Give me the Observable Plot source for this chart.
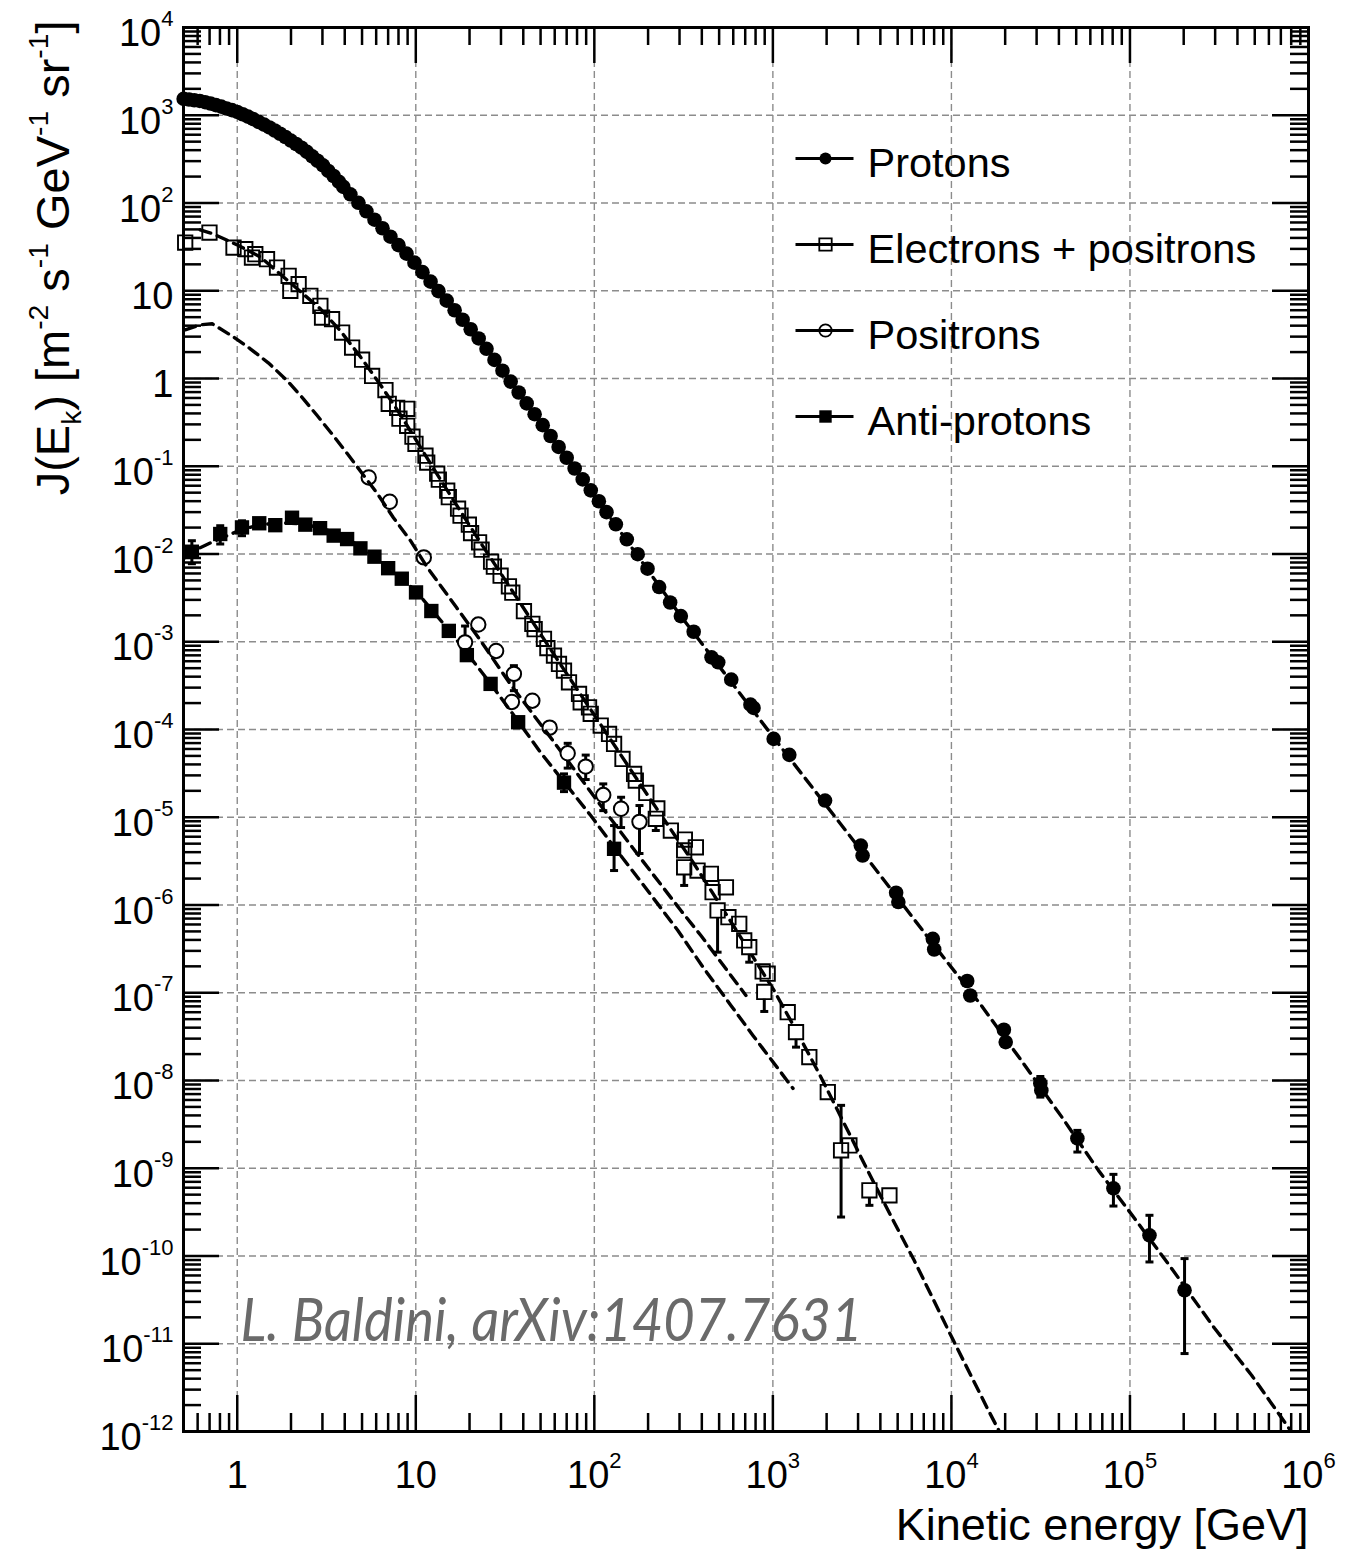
<!DOCTYPE html>
<html>
<head>
<meta charset="utf-8">
<script src="https://cdn.jsdelivr.net/npm/d3@7"></script>
<script src="https://cdn.jsdelivr.net/npm/@observablehq/plot@0.6"></script>
<style>
html,body{margin:0;padding:0;background:#fff;}
#chart svg{display:block;}
</style>
</head>
<body>
<div id="chart"></div>
<script>
// ---------------- data (kinetic energy E in GeV, flux J in m^-2 s^-1 GeV^-1 sr^-1) ----------------
const protonE = [
 0.501,0.537,0.575,0.617,0.661,0.708,0.759,0.813,0.871,0.933,
 1.0,1.072,1.148,1.230,1.318,1.413,1.514,1.622,1.738,1.862,
 1.995,2.138,2.291,2.455,2.630,2.818,3.020,3.236,3.467,3.715,
 3.93,4.30,4.77,5.29,5.87,6.51,7.21,8.00,8.87,9.83,
 10.9,12.1,13.4,14.9,16.5,18.3,20.3,22.5,24.9,27.6,
 30.6,34.0,37.7,41.8,46.3,51.4,56.9,63.1,70.0,77.6,
 86.1,95.5,106,117,132,152,175,
 198.6,230.7,265.8,305.2,360.1,453.2,494.1,584.5,748.8,779.4,
 1010,1236,1960,3108,3181,4900,5043,7866,8008,12260,
 12750,19670,20140,31480,31890,50760,80800,128600,202200];
const protonJ = [
 1535,1510,1483,1455,1409,1361,1306,1253,1194,1143,
 1091,1026,964,904,841,782,726,670,615,565,
 515,470,427,382,340,303,269,232,203,174,
 152.6,125.6,100.5,80.4,64.5,51.6,41.3,33.1,26.5,20.9,
 16.3,12.7,9.89,7.71,6.00,4.67,3.64,2.86,2.18,1.63,
 1.227,0.922,0.693,0.520,0.392,0.294,0.221,0.166,0.125,0.0942,
 0.0708,0.0531,0.0399,0.0300,0.0218,0.0147,0.00995,
 6.80e-3,4.20e-3,2.80e-3,1.96e-3,1.30e-3,6.64e-4,5.83e-4,3.70e-4,1.92e-4,1.76e-4,
 7.81e-5,5.14e-5,1.55e-5,4.76e-6,3.66e-6,1.38e-6,1.08e-6,4.12e-7,3.11e-7,1.36e-7,
 9.31e-8,3.79e-8,2.74e-8,9.27e-9,7.71e-9,2.19e-9,5.90e-10,1.72e-10,4.07e-11];
const protonErrE  = [31480, 50760, 80800, 128600, 202200];
const protonErrLo = [6.47e-9, 1.53e-9, 3.71e-10, 8.55e-11, 7.73e-12];
const protonErrHi = [1.11e-8, 2.70e-9, 8.52e-10, 2.91e-10, 9.34e-11];
const protonModelE = [1, 2.256, 3.93, 9.83, 24.9, 95.5, 305.2, 1010, 3120, 8008, 14700, 24640, 41280, 66570, 105970, 170900, 297800, 480100, 805000];
const protonModelJ = [1090, 435.5, 152.6, 20.8, 2.18, 0.0531, 1.96e-3, 8.08e-5, 4.18e-6, 3.46e-7, 7.17e-8, 1.69e-8, 3.90e-9, 9.46e-10, 2.69e-10, 7.24e-11, 1.50e-11, 4.38e-12, 9.82e-13];

const epE = [
 0.511,0.699,0.953,1.109,1.262,1.209,1.468,1.670,1.940,2.207,
 1.983,2.567,2.921,2.985,3.397,3.867,4.399,5.005,5.694,6.762,
 7.055,7.865,8.948,8.10,8.948,9.58,9.96,11.33,11.59,13.18,
 13.46,15.00,15.31,17.25,17.81,19.83,20.40,22.62,23.36,26.41,
 27.38,29.86,33.24,34.72,40.34,44.96,46.32,52.23,54.58,59.43,
 63.39,67.62,72.13,82.10,83.88,93.38,95.45,108.6,120.9,129.0,
 143.8,167.0,170.7,195.5,225.3,221.0,268.3,321.4,370.4,318.5,
 318.5,378.6,449.6,459.6,545.8,490.1,563.7,648.1,691.1,737.3,
 876.7,935.0,894.9,1211,1348,1600,2030,2410,2683,3473,4496];
const epJ = [
 35.4,46.0,31.0,29.8,26.1,23.9,22.9,18.4,14.8,11.9,
 9.97,8.75,6.73,4.95,4.75,3.34,2.25,1.64,1.07,0.738,
 0.515,0.464,0.452,0.348,0.289,0.217,0.180,0.132,0.110,0.0822,
 0.0702,0.0526,0.0444,0.0328,0.0273,0.0216,0.0173,0.0136,0.0112,0.00818,
 0.00717,0.00566,0.00428,0.00362,0.00223,0.00160,0.00139,0.00108,8.46e-4,6.95e-4,
 5.59e-4,4.69e-4,3.45e-4,2.54e-4,2.04e-4,1.79e-4,1.51e-4,1.11e-4,8.91e-5,6.85e-5,
 4.62e-5,3.12e-5,2.62e-5,1.89e-5,1.26e-5,9.59e-6,7.06e-6,5.57e-6,4.55e-6,4.18e-6,
 2.69e-6,2.47e-6,2.27e-6,1.40e-6,1.59e-6,8.66e-7,7.26e-7,6.11e-7,3.94e-7,3.31e-7,
 1.75e-7,1.65e-7,1.02e-7,6.01e-8,3.56e-8,1.85e-8,7.38e-9,1.60e-9,1.82e-9,5.60e-10,4.91e-10];
const epErrE  = [221.0, 318.5, 490.1, 737.3, 894.9, 1348, 2410, 3473];
const epErrJ  = [9.59e-6, 2.69e-6, 8.66e-7, 3.31e-7, 1.02e-7, 3.56e-8, 1.60e-9, 5.60e-10];
const epErrLo = [7.06e-6, 1.67e-6, 2.90e-7, 2.23e-7, 6.12e-8, 2.40e-8, 2.78e-10, 3.78e-10];
const epErrHi = [9.59e-6, 2.69e-6, 8.66e-7, 3.31e-7, 1.02e-7, 3.56e-8, 5.21e-9, 5.60e-10];
const epModelE = [0.620, 0.733, 1.0, 1.346, 1.983, 2.921, 3.782, 4.896, 6.339, 8.207, 13.75, 23.06, 38.66, 64.80, 108.6, 189.3, 361.0, 605.1, 1015, 1313, 1814, 2673, 3549, 4777, 6185, 10230, 16090, 19020];
const epModelJ = [49.4, 44.5, 33.3, 24.3, 12.30, 6.22, 3.49, 1.767, 0.848, 0.386, 0.0702, 0.01345, 0.00272, 5.48e-4, 1.137e-4, 2.07e-5, 2.97e-6, 5.69e-7, 1.062e-7, 4.13e-8, 1.205e-8, 2.50e-9, 7.88e-10, 2.42e-10, 8.93e-11, 1.10e-11, 1.75e-12, 9.08e-13];

const positronE = [5.45, 7.15, 11.09, 22.39, 18.88, 28.18, 35.44, 34.54, 44.96, 56.22, 70.93, 89.47, 112.2, 141.2, 179.0];
const positronJ = [0.0745, 0.0394, 0.00915, 0.00157, 9.84e-4, 7.86e-4, 4.30e-4, 2.06e-4, 2.13e-4, 1.05e-4, 5.36e-5, 3.78e-5, 1.79e-5, 1.25e-5, 8.86e-6];
const positronErrE  = [18.88, 35.44, 70.93, 89.47, 112.2, 141.2, 179.0];
const positronErrJ  = [9.84e-4, 4.30e-4, 5.36e-5, 3.78e-5, 1.79e-5, 1.25e-5, 8.86e-6];
const positronErrLo = [9.84e-4, 2.77e-4, 3.63e-5, 2.69e-5, 1.19e-5, 7.63e-6, 3.86e-6];
const positronErrHi = [1.51e-3, 5.34e-4, 6.96e-5, 5.11e-5, 2.40e-5, 1.69e-5, 1.36e-5];
const positronModelE = [0.511, 0.620, 0.724, 0.950, 1.183, 1.492, 1.907, 2.345, 2.810, 3.455, 4.140, 5.024, 6.098, 7.497, 9.34, 11.63, 16.92, 23.06, 33.97, 54.78, 70.93, 108.6, 182.0, 305.2, 395.2, 706.5];
const positronModelJ = [3.59, 4.09, 4.20, 2.99, 2.18, 1.51, 0.942, 0.587, 0.376, 0.2225, 0.1388, 0.0822, 0.0486, 0.0259, 0.01417, 0.00698, 0.00245, 0.00103, 3.25e-4, 8.98e-5, 4.42e-5, 1.36e-5, 3.39e-6, 8.66e-7, 4.49e-7, 9.31e-8];

const pbarE = [0.557, 0.803, 1.063, 1.328, 1.633, 2.027, 2.406, 2.910, 3.468, 4.124, 4.896, 5.866, 7.001, 8.348, 10.03, 12.22, 15.31, 19.32, 26.24, 37.43, 67.62, 129.0];
const pbarJ = [0.01062, 0.0169, 0.0201, 0.0224, 0.0213, 0.0259, 0.0216, 0.0197, 0.0162, 0.0148, 0.0116, 0.00932, 0.00689, 0.00523, 0.00365, 0.00224, 0.00133, 7.04e-4, 3.31e-4, 1.21e-4, 2.48e-5, 4.37e-6];
const pbarErrE  = [0.557, 0.803, 1.063, 67.62, 129.0];
const pbarErrLo = [7.75e-3, 0.0130, 0.01616, 1.96e-5, 2.47e-6];
const pbarErrHi = [0.01417, 0.0210, 0.0239, 3.12e-5, 8.04e-6];
const pbarModelE = [0.511, 0.620, 0.753, 1.053, 1.346, 1.743, 2.256, 2.921, 3.782, 4.896, 7.028, 10.09, 15.25, 19.25, 26.24, 37.19, 50.05, 67.36, 95.45, 128.5, 182.0, 293.7, 410.9, 582.1, 773.3, 1296];
const pbarModelJ = [0.00908, 0.01180, 0.01417, 0.01891, 0.02157, 0.02273, 0.02214, 0.01994, 0.01659, 0.01211, 0.00717, 0.00372, 0.001373, 7.51e-4, 3.33e-4, 1.263e-4, 5.46e-5, 2.55e-5, 1.046e-5, 4.64e-6, 1.852e-6, 5.12e-7, 1.891e-7, 7.17e-8, 3.26e-8, 8.13e-9];

// tick labels
const xTickValues = [1, 10, 100, 1e3, 1e4, 1e5, 1e6];
const xTickLabels = ["1", "10", "10^{2}", "10^{3}", "10^{4}", "10^{5}", "10^{6}"];
const yTickValues = [1e-12,1e-11,1e-10,1e-9,1e-8,1e-7,1e-6,1e-5,1e-4,1e-3,1e-2,1e-1,1,10,100,1e3,1e4];
const yTickLabels = ["10^{-12}","10^{-11}","10^{-10}","10^{-9}","10^{-8}","10^{-7}","10^{-6}","10^{-5}","10^{-4}","10^{-3}","10^{-2}","10^{-1}","1","10","10^{2}","10^{3}","10^{4}"];
const legendNames = ["Protons", "Electrons + positrons", "Positrons", "Anti-protons"];
const xTitle = "Kinetic energy [GeV]";
const yTitle = "J(E_{k}) [m^{-2} s^{-1} GeV^{-1} sr^{-1}]";
const watermark = "L. Baldini, arXiv:1407.7631";

// ---------------- layout ----------------
const W = 1364, H = 1549;
const mL = 183, mR = 56, mT = 27, mB = 118;
const innerW = W - mL - mR, innerH = H - mT - mB;

const zip = (E, J) => E.map((e, i) => ({E: e, J: J[i]}));
const errRows = (E, lo, hi, J) => E.map((e, i) => ({E: e, lo: lo[i], hi: hi[i], J: J ? J[i] : null}));

const protons = zip(protonE, protonJ);
const ep = zip(epE, epJ);
const positrons = zip(positronE, positronJ);
const pbar = zip(pbarE, pbarJ);
const protonErr = errRows(protonErrE, protonErrLo, protonErrHi);
const epErr = errRows(epErrE, epErrLo, epErrHi, epErrJ);
const positronErr = errRows(positronErrE, positronErrLo, positronErrHi, positronErrJ);
const pbarErr = errRows(pbarErrE, pbarErrLo, pbarErrHi);

const minorMult = [2,3,4,5,6,7,8,9];
const xMajor = [1, 10, 100, 1e3, 1e4, 1e5];
const xMinor = [0.5,0.6,0.7,0.8,0.9].concat(xMajor.flatMap(d => minorMult.map(k => k * d)));
const yMajor = yTickValues.slice(1, -1);
const yMinor = yTickValues.slice(0, -1).flatMap(d => minorMult.map(k => k * d));

const barSymbol = {draw(ctx, size) { const h = Math.sqrt(size / Math.PI); ctx.moveTo(-h, 0); ctx.lineTo(h, 0); }};

const gridStyle = {stroke: "#8c8c8c", strokeWidth: 1.4, strokeDasharray: "7,4"};
const modelStyle = {x: "E", y: "J", stroke: "black", strokeWidth: 3.4, strokeDasharray: "11,7", clip: true};
const MAJ = 36, MIN = 18;

function errorMarks(rows) {
  return [
    Plot.ruleX(rows, {x: "E", y1: "lo", y2: "hi", stroke: "black", strokeWidth: 3}),
    Plot.dot(rows, {x: "E", y: "lo", symbol: barSymbol, r: 4, stroke: "black", strokeWidth: 3}),
    Plot.dot(rows, {x: "E", y: "hi", symbol: barSymbol, r: 4, stroke: "black", strokeWidth: 3})
  ];
}

const legendMarkers = [
  {symbol: "circle", r: 6, fill: "black", stroke: "none", sw: 0},
  {symbol: "square", r: 7, fill: "none", stroke: "black", sw: 1.8},
  {symbol: "circle", r: 6.2, fill: "none", stroke: "black", sw: 1.8},
  {symbol: "square", r: 7, fill: "black", stroke: "none", sw: 0}
];
const legendMarks = legendNames.flatMap((name, i) => {
  const dy = 131 + i * 86;
  const m = legendMarkers[i];
  return [
    Plot.dot([0], {frameAnchor: "top-left", dx: 824 - mL, dy, symbol: barSymbol, r: 29, stroke: "black", strokeWidth: 3}),
    Plot.dot([0], {frameAnchor: "top-left", dx: 825 - mL, dy, symbol: m.symbol, r: m.r, fill: m.fill, stroke: m.stroke, strokeWidth: m.sw}),
    Plot.text([name], {frameAnchor: "top-left", dx: 867 - mL, dy: dy + 18, text: d => d, textAnchor: "start", lineAnchor: "bottom", fontSize: 41.5})
  ];
});

const plot = Plot.plot({
  width: W, height: H,
  marginLeft: mL, marginRight: mR, marginTop: mT, marginBottom: mB,
  style: {fontFamily: "'Liberation Sans', Arial, Helvetica, sans-serif", background: "white", color: "black", overflow: "visible"},
  x: {type: "log", domain: [0.5, 1e6], axis: null},
  y: {type: "log", domain: [1e-12, 1e4], axis: null},
  marks: [
    // grid
    Plot.ruleX(xMajor, {x: d => d, ...gridStyle}),
    Plot.ruleY(yMajor, {y: d => d, ...gridStyle}),
    // models
    Plot.line(zip(protonModelE, protonModelJ), modelStyle),
    Plot.line(zip(epModelE, epModelJ), modelStyle),
    Plot.line(zip(positronModelE, positronModelJ), modelStyle),
    Plot.line(zip(pbarModelE, pbarModelJ), modelStyle),
    // error bars
    ...errorMarks(protonErr),
    ...errorMarks(epErr),
    ...errorMarks(positronErr),
    ...errorMarks(pbarErr),
    // white backing for open markers carrying error bars
    Plot.dot(epErr, {x: "E", y: "J", symbol: "square", r: 7.6, fill: "white", stroke: "none"}),
    Plot.dot(positronErr, {x: "E", y: "J", r: 7, fill: "white", stroke: "none"}),
    // data
    Plot.dot(protons, {x: "E", y: "J", r: 7.3, fill: "black", stroke: "none"}),
    Plot.dot(ep, {x: "E", y: "J", symbol: "square", r: 8.1, fill: "none", stroke: "black", strokeWidth: 1.9}),
    Plot.dot(positrons, {x: "E", y: "J", r: 7.2, fill: "none", stroke: "black", strokeWidth: 2}),
    Plot.dot(pbar, {x: "E", y: "J", symbol: "square", r: 8.1, fill: "black", stroke: "none"}),
    // inner ticks on all four sides
    Plot.tickX(xMajor, {x: d => d, insetTop: innerH - MAJ, strokeWidth: 2.5}),
    Plot.tickX(xMajor, {x: d => d, insetBottom: innerH - MAJ, strokeWidth: 2.5}),
    Plot.tickX(xMinor, {x: d => d, insetTop: innerH - MIN, strokeWidth: 2.5}),
    Plot.tickX(xMinor, {x: d => d, insetBottom: innerH - MIN, strokeWidth: 2.5}),
    Plot.tickY(yMajor, {y: d => d, insetRight: innerW - MAJ, strokeWidth: 2.5}),
    Plot.tickY(yMajor, {y: d => d, insetLeft: innerW - MAJ, strokeWidth: 2.5}),
    Plot.tickY(yMinor, {y: d => d, insetRight: innerW - MIN, strokeWidth: 2.5}),
    Plot.tickY(yMinor, {y: d => d, insetLeft: innerW - MIN, strokeWidth: 2.5}),
    Plot.frame({stroke: "black", strokeWidth: 3}),
    // tick labels
    Plot.text(xTickValues, {x: d => d, text: (d, i) => xTickLabels[i], frameAnchor: "bottom", lineAnchor: "bottom", dy: 56, fontSize: 38}),
    Plot.text(yTickValues, {y: d => d, text: (d, i) => yTickLabels[i], frameAnchor: "left", textAnchor: "end", lineAnchor: "bottom", dx: -10, dy: 18.5, fontSize: 38}),
    // titles
    Plot.text([xTitle], {text: d => d, frameAnchor: "bottom-right", textAnchor: "end", lineAnchor: "bottom", dy: 108, fontSize: 45}),
    Plot.text([yTitle], {text: d => d, frameAnchor: "top-left", rotate: -90, textAnchor: "end", lineAnchor: "bottom", dx: -115, dy: -7, fontSize: 47}),
    // legend
    ...legendMarks,
    // watermark
    Plot.text([watermark], {text: d => d, frameAnchor: "bottom-left", textAnchor: "start", lineAnchor: "bottom", dx: 57, dy: -91, fontSize: 60, fontStyle: "italic", fontFamily: "Lato, 'Open Sans', sans-serif", fill: "#6a6a6a"})
  ]
});

// superscript / subscript rendering for texts written as a^{b} / a_{b}
function richify(el, fs, scale, rise, drop) {
  const src = el.textContent;
  const re = /([\^_])\{([^}]*)\}/g;
  const parts = [];
  let last = 0, m;
  while ((m = re.exec(src))) {
    if (m.index > last) parts.push({t: src.slice(last, m.index), k: 0});
    parts.push({t: m[2], k: m[1] === "^" ? 1 : -1});
    last = re.lastIndex;
  }
  if (last < src.length) parts.push({t: src.slice(last), k: 0});
  const s = d3.select(el);
  s.text(null);
  let cur = 0;
  parts.forEach((p, i) => {
    const target = p.k === 1 ? -rise : p.k === -1 ? drop : 0;
    const ts = s.append("tspan").text(p.t);
    if (i > 0 || target !== 0) ts.attr("dy", target - cur);
    if (p.k) ts.attr("font-size", fs * scale);
    cur = target;
  });
}
const svg = d3.select(plot);
svg.selectAll("text").each(function() {
  const t = this.textContent;
  if (t === watermark) {
    d3.select(this).attr("textLength", 622).attr("lengthAdjust", "spacingAndGlyphs");
  } else if (t === yTitle) {
    richify(this, 47, 0.6, 21, 12);
  } else if (/\^\{/.test(t)) {
    richify(this, 38, 0.58, 20, 0);
  }
});

document.getElementById("chart").appendChild(plot);
</script>
</body>
</html>
